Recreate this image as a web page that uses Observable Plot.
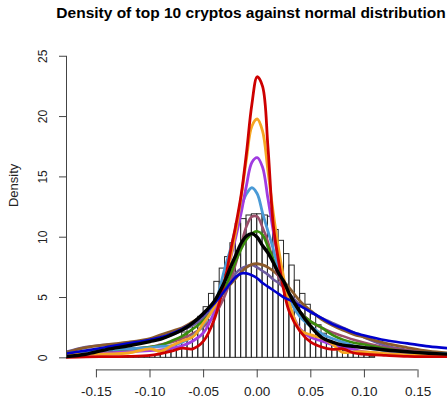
<!DOCTYPE html>
<html>
<head>
<meta charset="utf-8">
<script src="https://cdn.jsdelivr.net/npm/d3@7"></script>
<script src="https://cdn.jsdelivr.net/npm/@observablehq/plot@0.6"></script>
<style>
  html, body { margin: 0; padding: 0; background: #fff; }
  #wrap { position: relative; width: 447px; height: 400px; overflow: hidden; font-family: "Liberation Sans", Arial, sans-serif; }
  #title { position: absolute; left: 55px; right: 0; top: 5px; text-align: center; font-weight: bold; font-size: 15.5px; line-height: 1; white-space: nowrap; color: #000; }
  #chart { position: absolute; left: 0; top: 28px; }
</style>
</head>
<body>
<div id="wrap">
  <div id="title">Density of top 10 cryptos against normal distribution</div>
  <div id="chart"></div>
</div>
<script>
// Daily returns histogram (density scale), bins of width 0.005
const binStart = [-0.150, -0.145, -0.140, -0.135, -0.130, -0.125, -0.120, -0.115, -0.110, -0.105,
  -0.100, -0.095, -0.090, -0.085, -0.080, -0.075, -0.070, -0.065, -0.060, -0.055,
  -0.050, -0.045, -0.040, -0.035, -0.030, -0.025, -0.020, -0.015, -0.010, -0.005,
  0.000, 0.005, 0.010, 0.015, 0.020, 0.025, 0.030, 0.035, 0.040, 0.045,
  0.050, 0.055, 0.060, 0.065, 0.070, 0.075, 0.080, 0.085, 0.090, 0.095, 0.100, 0.105];
const binDensity = [0.05, 0.0, 0.05, 0.0, 0.05, 0.05, 0.1, 0.05, 0.1, 0.15,
  0.2, 0.2, 0.35, 0.6, 1.0, 1.4, 2.1, 2.7, 2.95, 3.4,
  4.2, 5.3, 6.3, 7.4, 8.35, 9.5, 11.1, 11.5, 11.8, 11.9,
  11.9, 11.8, 11.7, 10.6, 9.7, 8.6, 7.65, 6.4, 5.3, 4.4,
  3.6, 2.7, 2.0, 1.4, 1.0, 0.8, 0.55, 0.45, 0.35, 0.25, 0.2, 0.1];
const binWidth = 0.005;

// Kernel density estimates of each series, evaluated on a common return grid
const grid = [-0.178, -0.16, -0.14, -0.12, -0.10, -0.09, -0.08, -0.07, -0.06, -0.05,
  -0.04, -0.03, -0.025, -0.02, -0.015, -0.01, -0.005, 0, 0.005, 0.01,
  0.015, 0.02, 0.025, 0.03, 0.04, 0.05, 0.06, 0.07, 0.08, 0.09,
  0.10, 0.12, 0.14, 0.16, 0.178];

const densSlate = [0.5, 0.9, 1.1, 1.2, 1.4, 1.6, 1.9, 2.3, 2.7, 3.3, 4.2, 5.6, 6.3, 7.0, 7.4, 7.6, 7.7, 7.5, 7.2, 6.9, 6.5, 6.2, 5.8, 5.3, 4.4, 3.8, 3.3, 2.9, 2.5, 2.1, 1.7, 1.0, 0.65, 0.4, 0.3];
const densBrown = [0.45, 0.85, 1.1, 1.3, 1.6, 1.9, 2.2, 2.5, 3.0, 3.6, 4.6, 5.6, 6.1, 6.6, 7.1, 7.5, 7.75, 7.8, 7.7, 7.5, 7.2, 6.8, 6.3, 5.8, 4.7, 3.9, 3.2, 2.7, 2.3, 1.95, 1.7, 1.2, 0.85, 0.55, 0.4];
const densMauve = [0.3, 0.45, 0.6, 0.75, 0.9, 1.1, 1.3, 1.6, 2.0, 2.6, 3.5, 5.2, 6.4, 7.8, 9.4, 10.9, 11.7, 11.7, 10.8, 9.6, 8.0, 6.7, 5.8, 5.0, 3.8, 3.0, 2.5, 2.1, 1.8, 1.5, 1.25, 0.85, 0.6, 0.4, 0.3];
const densGreen = [0.25, 0.35, 0.5, 0.7, 0.9, 1.05, 1.4, 1.8, 2.4, 3.1, 4.1, 5.8, 6.9, 8.0, 9.0, 9.8, 10.3, 10.5, 10.2, 9.2, 8.2, 7.1, 6.3, 5.3, 3.8, 3.0, 2.5, 1.9, 1.5, 1.25, 1.1, 0.75, 0.5, 0.38, 0.3];
const densSky = [0.35, 0.5, 0.65, 0.75, 0.85, 0.95, 1.0, 1.3, 1.8, 2.8, 4.3, 7.5, 9.0, 10.8, 12.5, 13.6, 14.1, 13.6, 12.0, 10.5, 9.0, 7.3, 5.8, 4.8, 3.4, 2.6, 2.0, 1.6, 1.3, 1.0, 0.85, 0.6, 0.45, 0.38, 0.35];
const densPurple = [0.2, 0.3, 0.4, 0.5, 0.6, 0.65, 0.8, 1.0, 1.4, 2.1, 3.8, 6.5, 8.2, 10.0, 12.0, 14.3, 16.2, 16.6, 15.8, 13.2, 10.5, 8.0, 6.0, 4.3, 2.4, 1.7, 1.4, 1.1, 0.9, 0.7, 0.5, 0.35, 0.25, 0.18, 0.15];
const densOrange = [0.3, 0.3, 0.32, 0.4, 0.75, 0.55, 1.0, 1.4, 1.75, 2.9, 4.2, 6.5, 8.3, 10.5, 13.3, 16.5, 19.2, 19.8, 18.8, 15.5, 12.0, 9.0, 6.5, 4.5, 2.3, 1.9, 1.65, 1.15, 0.45, 0.5, 0.5, 0.35, 0.25, 0.18, 0.15];
const densRed = [0.05, 0.08, 0.1, 0.12, 0.2, 0.35, 0.55, 0.8, 0.75, 1.4, 3.2, 6.5, 8.8, 11.0, 13.5, 17.0, 21.0, 23.3, 22.5, 17.5, 11.0, 8.0, 5.5, 3.8, 2.2, 1.3, 0.9, 0.7, 0.75, 0.4, 0.3, 0.2, 0.12, 0.1, 0.1];
const densBlue = [0.35, 0.6, 0.9, 1.2, 1.5, 1.7, 2.0, 2.4, 2.9, 3.6, 4.5, 5.6, 6.2, 6.7, 7.0, 7.0, 6.85, 6.6, 6.2, 5.9, 5.6, 5.3, 5.0, 4.8, 4.3, 3.8, 3.3, 2.8, 2.45, 2.1, 1.85, 1.45, 1.2, 0.95, 0.8];
const densBlack = [0.1, 0.3, 0.7, 1.0, 1.35, 1.55, 1.9, 2.3, 2.9, 3.7, 4.7, 6.4, 7.5, 8.5, 9.5, 10.1, 10.3, 10.0, 9.3, 8.7, 7.9, 7.0, 6.3, 5.3, 3.8, 2.6, 1.7, 1.3, 1.05, 0.95, 0.85, 0.65, 0.5, 0.38, 0.3];

const xTicks = [-0.15, -0.10, -0.05, 0.00, 0.05, 0.10, 0.15];
const yTicks = [0, 5, 10, 15, 20, 25];

// drawing order, colour and line width of each density curve
const curves = [
  {values: densSlate,  color: "#6c5b9e", width: 2.6},
  {values: densBrown,  color: "#8b5a2b", width: 2.8},
  {values: densMauve,  color: "#9b4f6a", width: 2.6},
  {values: densGreen,  color: "#3a8c0c", width: 2.6},
  {values: densSky,    color: "#4a9ad6", width: 2.8},
  {values: densPurple, color: "#a03ce0", width: 2.8},
  {values: densOrange, color: "#f5a623", width: 2.8},
  {values: densRed,    color: "#cd0000", width: 2.8},
  {values: densBlue,   color: "#0000cd", width: 2.6},
  {values: densBlack,  color: "#000000", width: 3.4}
];

const xDomain = [-0.1779, 0.1775];

const bins = binStart.map((x, i) => ({x1: x, x2: x + binWidth, density: binDensity[i]}));

const lineMarks = curves.map(c =>
  Plot.line(grid.map((x, i) => ({x, y: c.values[i]})), {
    x: "x", y: "y", stroke: c.color, strokeWidth: c.width,
    curve: "catmull-rom", clip: true, strokeLinejoin: "round"
  })
);

const chart = Plot.plot({
  width: 447,
  height: 372,
  marginLeft: 66,
  marginRight: 0,
  marginTop: 15.7,
  marginBottom: 30.6,
  x: {domain: xDomain},
  y: {domain: [-1, 26]},
  style: {fontFamily: "'Liberation Sans', Arial, sans-serif", background: "#fff", color: "#222", overflow: "visible"},
  marks: [
    Plot.rect(bins, {x1: "x1", x2: "x2", y1: 0, y2: "density", fill: "none", stroke: "#2a2a2a", strokeWidth: 1}),
    ...lineMarks,
    Plot.ruleY([{y: -1, x1: xTicks[0], x2: xTicks[xTicks.length - 1]}], {y: "y", x1: "x1", x2: "x2", stroke: "#444"}),
    Plot.ruleX([{x: xDomain[0], y1: yTicks[0], y2: yTicks[yTicks.length - 1]}], {x: "x", y1: "y1", y2: "y2", stroke: "#444"}),
    Plot.axisX({ticks: xTicks, tickSize: 8, tickPadding: 9, tickFormat: d => d.toFixed(2), fontSize: 13.5, stroke: "#444", label: null}),
    Plot.axisY({ticks: yTicks, tickSize: 7, tickPadding: 16, tickRotate: -90, textAnchor: "middle", lineAnchor: "middle", fontSize: 12, stroke: "#444", label: null}),
    Plot.text(["Density"], {frameAnchor: "left", dx: -53, rotate: -90, fontSize: 13, fill: "#222"})
  ]
});

document.getElementById("chart").appendChild(chart);
</script>
</body>
</html>
